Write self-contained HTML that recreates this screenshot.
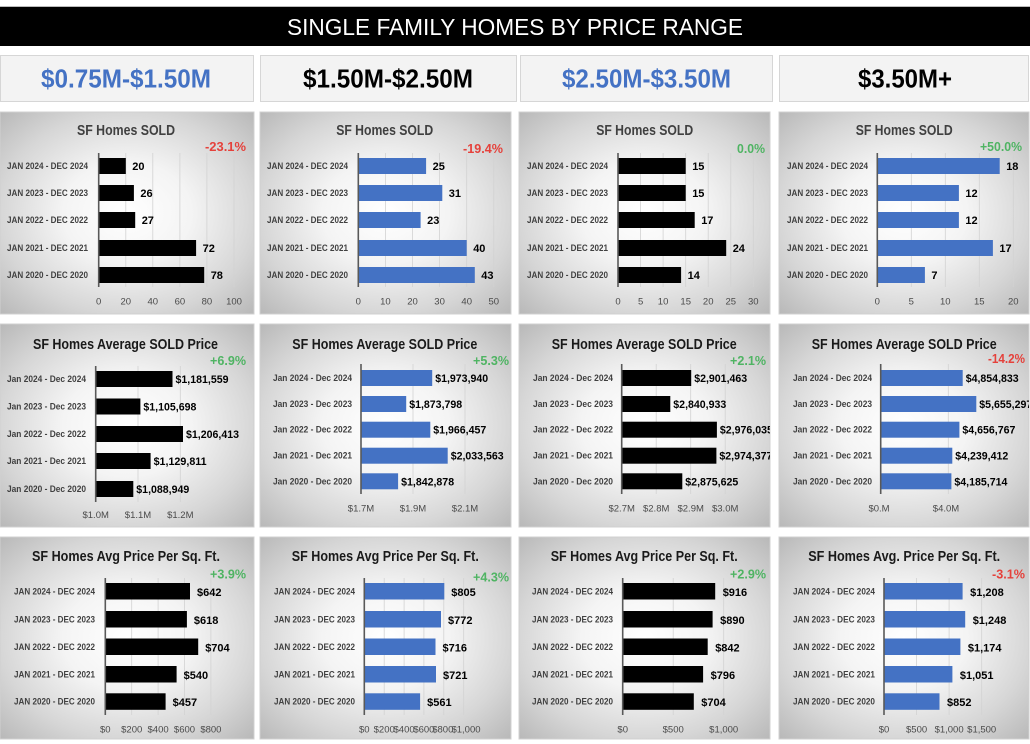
<!DOCTYPE html>
<html><head><meta charset="utf-8"><style>
html,body{margin:0;padding:0;background:#fff;}
svg{display:block;font-family:"Liberation Sans",Arial,sans-serif;}
.ttl{font-weight:bold;font-size:15px;fill:#1a1a1a;text-anchor:middle;}
.t1{fill:#404040;}
.pr{font-weight:bold;font-size:13px;text-anchor:end;}
.red{fill:#e5413b;}
.grn{fill:#4fb463;}
.cat{font-weight:bold;font-size:9px;fill:#404040;text-anchor:end;}
.val{font-weight:bold;font-size:11px;fill:#000;}
.tk{font-size:9.5px;fill:#4a4a4a;text-anchor:middle;}
.gl{stroke:#d2d2d2;stroke-width:0.8;}
.ax{stroke:#595959;stroke-width:1.6;}
.bb{fill:#000;}
.bl{fill:#4472C4;}
</style></head><body>
<svg width="1030" height="744" viewBox="0 0 1030 744" xmlns="http://www.w3.org/2000/svg">
<defs>
<radialGradient id="g" cx="0.5" cy="0.5" r="0.72">
<stop offset="0" stop-color="#ffffff"/>
<stop offset="0.35" stop-color="#f4f4f4"/>
<stop offset="0.7" stop-color="#d6d6d6"/>
<stop offset="1" stop-color="#b6b6b6"/>
</radialGradient>
<clipPath id="c23"><rect x="519" y="324" width="251" height="203"/></clipPath>
<clipPath id="c24"><rect x="779" y="324" width="250" height="203"/></clipPath>
</defs>
<rect width="1030" height="744" fill="#fff"/>
<!-- header -->
<rect x="0" y="6" width="1030" height="1" fill="#bbb"/>
<rect x="0" y="7" width="1030" height="39" fill="#000"/>
<text x="515" y="35" font-size="23" fill="#fff" text-anchor="middle" textLength="456" lengthAdjust="spacingAndGlyphs">SINGLE FAMILY HOMES BY PRICE RANGE</text>
<!-- range boxes -->
<rect x="0.5" y="55.5" width="253" height="46" fill="#f3f3f3" stroke="#d6d6d6"/>
<rect x="260.5" y="55.5" width="256" height="46" fill="#f3f3f3" stroke="#d6d6d6"/>
<rect x="520.5" y="55.5" width="252" height="46" fill="#f3f3f3" stroke="#d6d6d6"/>
<rect x="779.5" y="55.5" width="249" height="46" fill="#f3f3f3" stroke="#d6d6d6"/>
<g font-weight="bold" font-size="26" text-anchor="middle">
<text x="126" y="87.5" fill="#4472C4" textLength="170" lengthAdjust="spacingAndGlyphs">$0.75M-$1.50M</text>
<text x="388" y="87.5" fill="#000" textLength="170" lengthAdjust="spacingAndGlyphs">$1.50M-$2.50M</text>
<text x="646.5" y="87.5" fill="#4472C4" textLength="169" lengthAdjust="spacingAndGlyphs">$2.50M-$3.50M</text>
<text x="905" y="87.5" fill="#000" textLength="94" lengthAdjust="spacingAndGlyphs">$3.50M+</text>
</g>
<!-- panels -->
<g stroke="#d0d0d0" stroke-width="1" fill="url(#g)">
<rect x="0" y="112" width="254" height="202"/><rect x="260" y="112" width="251" height="202"/><rect x="519" y="112" width="251" height="202"/><rect x="779" y="112" width="250" height="202"/>
<rect x="0" y="324" width="254" height="203"/><rect x="260" y="324" width="251" height="203"/><rect x="519" y="324" width="251" height="203"/><rect x="779" y="324" width="250" height="203"/>
<rect x="0" y="537" width="254" height="202"/><rect x="260" y="537" width="251" height="202"/><rect x="519" y="537" width="251" height="202"/><rect x="779" y="537" width="250" height="202"/>
</g>

<!-- ================= ROW 1 ================= -->
<g>
<text class="ttl t1" x="126" y="135" textLength="98" lengthAdjust="spacingAndGlyphs">SF Homes SOLD</text>
<text class="ttl t1" x="384.7" y="135" textLength="97" lengthAdjust="spacingAndGlyphs">SF Homes SOLD</text>
<text class="ttl t1" x="644.7" y="135" textLength="97" lengthAdjust="spacingAndGlyphs">SF Homes SOLD</text>
<text class="ttl t1" x="904.2" y="135" textLength="97" lengthAdjust="spacingAndGlyphs">SF Homes SOLD</text>
<text class="pr red" x="246" y="151" textLength="41" lengthAdjust="spacingAndGlyphs">-23.1%</text>
<text class="pr red" x="503" y="153" textLength="40" lengthAdjust="spacingAndGlyphs">-19.4%</text>
<text class="pr grn" x="765" y="153" textLength="28" lengthAdjust="spacingAndGlyphs">0.0%</text>
<text class="pr grn" x="1022" y="151" textLength="42" lengthAdjust="spacingAndGlyphs">+50.0%</text>
</g>
<!-- R1 P1 -->
<g>
<line class="gl" x1="125.8" y1="153" x2="125.8" y2="287"/><line class="gl" x1="152.8" y1="153" x2="152.8" y2="287"/><line class="gl" x1="179.9" y1="153" x2="179.9" y2="287"/><line class="gl" x1="206.9" y1="153" x2="206.9" y2="287"/><line class="gl" x1="234" y1="153" x2="234" y2="287"/>
<rect class="bb" x="98.7" y="158" width="27.1" height="16"/><rect class="bb" x="98.7" y="185" width="35.2" height="16"/><rect class="bb" x="98.7" y="212" width="36.5" height="16"/><rect class="bb" x="98.7" y="240" width="97.4" height="16"/><rect class="bb" x="98.7" y="267" width="105.5" height="16"/>
<line class="ax" x1="98.7" y1="153" x2="98.7" y2="287"/>
<text class="cat" x="88" y="169" textLength="81" lengthAdjust="spacingAndGlyphs">JAN 2024 - DEC 2024</text>
<text class="cat" x="88" y="196" textLength="81" lengthAdjust="spacingAndGlyphs">JAN 2023 - DEC 2023</text>
<text class="cat" x="88" y="223" textLength="81" lengthAdjust="spacingAndGlyphs">JAN 2022 - DEC 2022</text>
<text class="cat" x="88" y="251" textLength="81" lengthAdjust="spacingAndGlyphs">JAN 2021 - DEC 2021</text>
<text class="cat" x="88" y="278" textLength="81" lengthAdjust="spacingAndGlyphs">JAN 2020 - DEC 2020</text>
<text class="val" x="132.3" y="170">20</text><text class="val" x="140.4" y="197">26</text><text class="val" x="141.7" y="224">27</text><text class="val" x="202.6" y="252">72</text><text class="val" x="210.7" y="279">78</text>
<text class="tk" x="98.7" y="304.5">0</text><text class="tk" x="125.8" y="304.5">20</text><text class="tk" x="152.8" y="304.5">40</text><text class="tk" x="179.9" y="304.5">60</text><text class="tk" x="206.9" y="304.5">80</text><text class="tk" x="234" y="304.5">100</text>
</g>
<!-- R1 P2 -->
<g>
<line class="gl" x1="385.4" y1="153" x2="385.4" y2="287"/><line class="gl" x1="412.5" y1="153" x2="412.5" y2="287"/><line class="gl" x1="439.6" y1="153" x2="439.6" y2="287"/><line class="gl" x1="466.7" y1="153" x2="466.7" y2="287"/><line class="gl" x1="493.8" y1="153" x2="493.8" y2="287"/>
<rect class="bl" x="358.3" y="158" width="67.8" height="16"/><rect class="bl" x="358.3" y="185" width="84" height="16"/><rect class="bl" x="358.3" y="212" width="62.3" height="16"/><rect class="bl" x="358.3" y="240" width="108.4" height="16"/><rect class="bl" x="358.3" y="267" width="116.5" height="16"/>
<line class="ax" x1="358.3" y1="153" x2="358.3" y2="287"/>
<text class="cat" x="348" y="169" textLength="81" lengthAdjust="spacingAndGlyphs">JAN 2024 - DEC 2024</text>
<text class="cat" x="348" y="196" textLength="81" lengthAdjust="spacingAndGlyphs">JAN 2023 - DEC 2023</text>
<text class="cat" x="348" y="223" textLength="81" lengthAdjust="spacingAndGlyphs">JAN 2022 - DEC 2022</text>
<text class="cat" x="348" y="251" textLength="81" lengthAdjust="spacingAndGlyphs">JAN 2021 - DEC 2021</text>
<text class="cat" x="348" y="278" textLength="81" lengthAdjust="spacingAndGlyphs">JAN 2020 - DEC 2020</text>
<text class="val" x="432.6" y="170">25</text><text class="val" x="448.8" y="197">31</text><text class="val" x="427.1" y="224">23</text><text class="val" x="473.2" y="252">40</text><text class="val" x="481.3" y="279">43</text>
<text class="tk" x="358.3" y="304.5">0</text><text class="tk" x="385.4" y="304.5">10</text><text class="tk" x="412.5" y="304.5">20</text><text class="tk" x="439.6" y="304.5">30</text><text class="tk" x="466.7" y="304.5">40</text><text class="tk" x="493.8" y="304.5">50</text>
</g>
<!-- R1 P3 -->
<g>
<line class="gl" x1="640.6" y1="153" x2="640.6" y2="287"/><line class="gl" x1="663.1" y1="153" x2="663.1" y2="287"/><line class="gl" x1="685.7" y1="153" x2="685.7" y2="287"/><line class="gl" x1="708.2" y1="153" x2="708.2" y2="287"/><line class="gl" x1="730.8" y1="153" x2="730.8" y2="287"/><line class="gl" x1="753.3" y1="153" x2="753.3" y2="287"/>
<rect class="bb" x="618" y="158" width="67.7" height="16"/><rect class="bb" x="618" y="185" width="67.7" height="16"/><rect class="bb" x="618" y="212" width="76.7" height="16"/><rect class="bb" x="618" y="240" width="108.2" height="16"/><rect class="bb" x="618" y="267" width="63.1" height="16"/>
<line class="ax" x1="618" y1="153" x2="618" y2="287"/>
<text class="cat" x="608" y="169" textLength="81" lengthAdjust="spacingAndGlyphs">JAN 2024 - DEC 2024</text>
<text class="cat" x="608" y="196" textLength="81" lengthAdjust="spacingAndGlyphs">JAN 2023 - DEC 2023</text>
<text class="cat" x="608" y="223" textLength="81" lengthAdjust="spacingAndGlyphs">JAN 2022 - DEC 2022</text>
<text class="cat" x="608" y="251" textLength="81" lengthAdjust="spacingAndGlyphs">JAN 2021 - DEC 2021</text>
<text class="cat" x="608" y="278" textLength="81" lengthAdjust="spacingAndGlyphs">JAN 2020 - DEC 2020</text>
<text class="val" x="692.2" y="170">15</text><text class="val" x="692.2" y="197">15</text><text class="val" x="701.2" y="224">17</text><text class="val" x="732.7" y="252">24</text><text class="val" x="687.6" y="279">14</text>
<text class="tk" x="618" y="304.5">0</text><text class="tk" x="640.6" y="304.5">5</text><text class="tk" x="663.1" y="304.5">10</text><text class="tk" x="685.7" y="304.5">15</text><text class="tk" x="708.2" y="304.5">20</text><text class="tk" x="730.8" y="304.5">25</text><text class="tk" x="753.3" y="304.5">30</text>
</g>
<!-- R1 P4 -->
<g>
<line class="gl" x1="911.3" y1="153" x2="911.3" y2="287"/><line class="gl" x1="945.3" y1="153" x2="945.3" y2="287"/><line class="gl" x1="979.3" y1="153" x2="979.3" y2="287"/><line class="gl" x1="1013.3" y1="153" x2="1013.3" y2="287"/>
<rect class="bl" x="877.3" y="158" width="122.4" height="16"/><rect class="bl" x="877.3" y="185" width="81.6" height="16"/><rect class="bl" x="877.3" y="212" width="81.6" height="16"/><rect class="bl" x="877.3" y="240" width="115.6" height="16"/><rect class="bl" x="877.3" y="267" width="47.6" height="16"/>
<line class="ax" x1="877.3" y1="153" x2="877.3" y2="287"/>
<text class="cat" x="868" y="169" textLength="81" lengthAdjust="spacingAndGlyphs">JAN 2024 - DEC 2024</text>
<text class="cat" x="868" y="196" textLength="81" lengthAdjust="spacingAndGlyphs">JAN 2023 - DEC 2023</text>
<text class="cat" x="868" y="223" textLength="81" lengthAdjust="spacingAndGlyphs">JAN 2022 - DEC 2022</text>
<text class="cat" x="868" y="251" textLength="81" lengthAdjust="spacingAndGlyphs">JAN 2021 - DEC 2021</text>
<text class="cat" x="868" y="278" textLength="81" lengthAdjust="spacingAndGlyphs">JAN 2020 - DEC 2020</text>
<text class="val" x="1006.2" y="170">18</text><text class="val" x="965.4" y="197">12</text><text class="val" x="965.4" y="224">12</text><text class="val" x="999.4" y="252">17</text><text class="val" x="931.4" y="279">7</text>
<text class="tk" x="877.3" y="304.5">0</text><text class="tk" x="911.3" y="304.5">5</text><text class="tk" x="945.3" y="304.5">10</text><text class="tk" x="979.3" y="304.5">15</text><text class="tk" x="1013.3" y="304.5">20</text>
</g>

<!-- ================= ROW 2 ================= -->
<g>
<text class="ttl" x="125.5" y="349" textLength="185" lengthAdjust="spacingAndGlyphs">SF Homes Average SOLD Price</text>
<text class="ttl" x="384.8" y="349" textLength="185" lengthAdjust="spacingAndGlyphs">SF Homes Average SOLD Price</text>
<text class="ttl" x="644.2" y="349" textLength="185" lengthAdjust="spacingAndGlyphs">SF Homes Average SOLD Price</text>
<text class="ttl" x="904.2" y="349" textLength="185" lengthAdjust="spacingAndGlyphs">SF Homes Average SOLD Price</text>
<text class="pr grn" x="246" y="365" textLength="36" lengthAdjust="spacingAndGlyphs">+6.9%</text>
<text class="pr grn" x="509" y="365" textLength="36" lengthAdjust="spacingAndGlyphs">+5.3%</text>
<text class="pr grn" x="766" y="365" textLength="36" lengthAdjust="spacingAndGlyphs">+2.1%</text>
<text class="pr red" x="1025" y="363" textLength="37" lengthAdjust="spacingAndGlyphs">-14.2%</text>
</g>
<!-- R2 P1 -->
<g>
<line class="gl" x1="138" y1="366" x2="138" y2="502"/><line class="gl" x1="180.3" y1="366" x2="180.3" y2="502"/>
<rect class="bb" x="95.7" y="371" width="76.8" height="16"/><rect class="bb" x="95.7" y="398.5" width="44.7" height="16"/><rect class="bb" x="95.7" y="426" width="87.3" height="16"/><rect class="bb" x="95.7" y="453" width="54.9" height="16"/><rect class="bb" x="95.7" y="481" width="37.6" height="16"/>
<line class="ax" x1="95.7" y1="366" x2="95.7" y2="502"/>
<text class="cat" x="86" y="382" textLength="79" lengthAdjust="spacingAndGlyphs">Jan 2024 - Dec 2024</text>
<text class="cat" x="86" y="409.5" textLength="79" lengthAdjust="spacingAndGlyphs">Jan 2023 - Dec 2023</text>
<text class="cat" x="86" y="437" textLength="79" lengthAdjust="spacingAndGlyphs">Jan 2022 - Dec 2022</text>
<text class="cat" x="86" y="464" textLength="79" lengthAdjust="spacingAndGlyphs">Jan 2021 - Dec 2021</text>
<text class="cat" x="86" y="492" textLength="79" lengthAdjust="spacingAndGlyphs">Jan 2020 - Dec 2020</text>
<text class="val" x="175.5" y="383" textLength="53" lengthAdjust="spacingAndGlyphs">$1,181,559</text><text class="val" x="143.4" y="410.5" textLength="53" lengthAdjust="spacingAndGlyphs">$1,105,698</text><text class="val" x="186" y="438" textLength="53" lengthAdjust="spacingAndGlyphs">$1,206,413</text><text class="val" x="153.6" y="465" textLength="53" lengthAdjust="spacingAndGlyphs">$1,129,811</text><text class="val" x="136.3" y="493" textLength="53" lengthAdjust="spacingAndGlyphs">$1,088,949</text>
<text class="tk" x="95.7" y="518">$1.0M</text><text class="tk" x="138" y="518">$1.1M</text><text class="tk" x="180.3" y="518">$1.2M</text>
</g>
<!-- R2 P2 -->
<g>
<line class="gl" x1="413" y1="364" x2="413" y2="494"/><line class="gl" x1="465" y1="364" x2="465" y2="494"/>
<rect class="bl" x="361" y="370" width="71.2" height="16"/><rect class="bl" x="361" y="396" width="45.2" height="16"/><rect class="bl" x="361" y="421.7" width="69.3" height="16"/><rect class="bl" x="361" y="447.7" width="86.7" height="16"/><rect class="bl" x="361" y="473.3" width="37.1" height="16"/>
<line class="ax" x1="361" y1="364" x2="361" y2="494"/>
<text class="cat" x="352" y="381" textLength="79" lengthAdjust="spacingAndGlyphs">Jan 2024 - Dec 2024</text>
<text class="cat" x="352" y="407" textLength="79" lengthAdjust="spacingAndGlyphs">Jan 2023 - Dec 2023</text>
<text class="cat" x="352" y="432.7" textLength="79" lengthAdjust="spacingAndGlyphs">Jan 2022 - Dec 2022</text>
<text class="cat" x="352" y="458.7" textLength="79" lengthAdjust="spacingAndGlyphs">Jan 2021 - Dec 2021</text>
<text class="cat" x="352" y="484.3" textLength="79" lengthAdjust="spacingAndGlyphs">Jan 2020 - Dec 2020</text>
<text class="val" x="435.2" y="382" textLength="53" lengthAdjust="spacingAndGlyphs">$1,973,940</text><text class="val" x="409.2" y="408" textLength="53" lengthAdjust="spacingAndGlyphs">$1,873,798</text><text class="val" x="433.3" y="433.7" textLength="53" lengthAdjust="spacingAndGlyphs">$1,966,457</text><text class="val" x="450.7" y="459.7" textLength="53" lengthAdjust="spacingAndGlyphs">$2,033,563</text><text class="val" x="401.1" y="485.3" textLength="53" lengthAdjust="spacingAndGlyphs">$1,842,878</text>
<text class="tk" x="361" y="511.5">$1.7M</text><text class="tk" x="413" y="511.5">$1.9M</text><text class="tk" x="465" y="511.5">$2.1M</text>
</g>
<!-- R2 P3 -->
<g clip-path="url(#c23)">
<line class="gl" x1="656.2" y1="364" x2="656.2" y2="494"/><line class="gl" x1="690.7" y1="364" x2="690.7" y2="494"/><line class="gl" x1="725.2" y1="364" x2="725.2" y2="494"/>
<rect class="bb" x="621.7" y="370" width="69.5" height="16"/><rect class="bb" x="621.7" y="396" width="48.6" height="16"/><rect class="bb" x="621.7" y="421.7" width="95.2" height="16"/><rect class="bb" x="621.7" y="447.7" width="94.7" height="16"/><rect class="bb" x="621.7" y="473.3" width="60.6" height="16"/>
<line class="ax" x1="621.7" y1="364" x2="621.7" y2="494"/>
<text class="cat" x="613" y="381" textLength="80" lengthAdjust="spacingAndGlyphs">Jan 2024 - Dec 2024</text>
<text class="cat" x="613" y="407" textLength="80" lengthAdjust="spacingAndGlyphs">Jan 2023 - Dec 2023</text>
<text class="cat" x="613" y="432.7" textLength="80" lengthAdjust="spacingAndGlyphs">Jan 2022 - Dec 2022</text>
<text class="cat" x="613" y="458.7" textLength="80" lengthAdjust="spacingAndGlyphs">Jan 2021 - Dec 2021</text>
<text class="cat" x="613" y="484.3" textLength="80" lengthAdjust="spacingAndGlyphs">Jan 2020 - Dec 2020</text>
<text class="val" x="694.2" y="382" textLength="53" lengthAdjust="spacingAndGlyphs">$2,901,463</text><text class="val" x="673.3" y="408" textLength="53" lengthAdjust="spacingAndGlyphs">$2,840,933</text><text class="val" x="719.9" y="433.7" textLength="53" lengthAdjust="spacingAndGlyphs">$2,976,035</text><text class="val" x="719.4" y="459.7" textLength="53" lengthAdjust="spacingAndGlyphs">$2,974,377</text><text class="val" x="685.3" y="485.3" textLength="53" lengthAdjust="spacingAndGlyphs">$2,875,625</text>
<text class="tk" x="621.7" y="511.5">$2.7M</text><text class="tk" x="656.2" y="511.5">$2.8M</text><text class="tk" x="690.7" y="511.5">$2.9M</text><text class="tk" x="725.2" y="511.5">$3.0M</text>
</g>
<!-- R2 P4 -->
<g clip-path="url(#c24)">
<line class="gl" x1="948.3" y1="364" x2="948.3" y2="494"/>
<rect class="bl" x="880.7" y="370" width="82" height="16"/><rect class="bl" x="880.7" y="396" width="95.6" height="16"/><rect class="bl" x="880.7" y="421.7" width="78.7" height="16"/><rect class="bl" x="880.7" y="447.7" width="71.6" height="16"/><rect class="bl" x="880.7" y="473.3" width="70.7" height="16"/>
<line class="ax" x1="880.7" y1="364" x2="880.7" y2="494"/>
<text class="cat" x="872" y="381" textLength="79" lengthAdjust="spacingAndGlyphs">Jan 2024 - Dec 2024</text>
<text class="cat" x="872" y="407" textLength="79" lengthAdjust="spacingAndGlyphs">Jan 2023 - Dec 2023</text>
<text class="cat" x="872" y="432.7" textLength="79" lengthAdjust="spacingAndGlyphs">Jan 2022 - Dec 2022</text>
<text class="cat" x="872" y="458.7" textLength="79" lengthAdjust="spacingAndGlyphs">Jan 2021 - Dec 2021</text>
<text class="cat" x="872" y="484.3" textLength="79" lengthAdjust="spacingAndGlyphs">Jan 2020 - Dec 2020</text>
<text class="val" x="965.7" y="382" textLength="53" lengthAdjust="spacingAndGlyphs">$4,854,833</text><text class="val" x="979.3" y="408" textLength="53" lengthAdjust="spacingAndGlyphs">$5,655,297</text><text class="val" x="962.4" y="433.7" textLength="53" lengthAdjust="spacingAndGlyphs">$4,656,767</text><text class="val" x="955.3" y="459.7" textLength="53" lengthAdjust="spacingAndGlyphs">$4,239,412</text><text class="val" x="954.4" y="485.3" textLength="53" lengthAdjust="spacingAndGlyphs">$4,185,714</text>
<text class="tk" x="879" y="511.5">$0.M</text><text class="tk" x="946" y="511.5">$4.0M</text>
</g>

<!-- ================= ROW 3 ================= -->
<g>
<text class="ttl" x="126" y="561" textLength="188" lengthAdjust="spacingAndGlyphs">SF Homes Avg Price Per Sq. Ft.</text>
<text class="ttl" x="385.3" y="561" textLength="187" lengthAdjust="spacingAndGlyphs">SF Homes Avg Price Per Sq. Ft.</text>
<text class="ttl" x="644.2" y="561" textLength="187" lengthAdjust="spacingAndGlyphs">SF Homes Avg Price Per Sq. Ft.</text>
<text class="ttl" x="904.2" y="561" textLength="192" lengthAdjust="spacingAndGlyphs">SF Homes Avg. Price Per Sq. Ft.</text>
<text class="pr grn" x="246" y="578.7" textLength="36" lengthAdjust="spacingAndGlyphs">+3.9%</text>
<text class="pr grn" x="509" y="581.5" textLength="36" lengthAdjust="spacingAndGlyphs">+4.3%</text>
<text class="pr grn" x="766" y="578.7" textLength="36" lengthAdjust="spacingAndGlyphs">+2.9%</text>
<text class="pr red" x="1025" y="578.7" textLength="33" lengthAdjust="spacingAndGlyphs">-3.1%</text>
</g>
<!-- R3 P1 -->
<g>
<line class="gl" x1="131.7" y1="578" x2="131.7" y2="715"/><line class="gl" x1="158.1" y1="578" x2="158.1" y2="715"/><line class="gl" x1="184.5" y1="578" x2="184.5" y2="715"/><line class="gl" x1="210.9" y1="578" x2="210.9" y2="715"/>
<rect class="bb" x="105.3" y="583" width="84.7" height="16.5"/><rect class="bb" x="105.3" y="611" width="81.6" height="16.5"/><rect class="bb" x="105.3" y="638.5" width="92.9" height="16.5"/><rect class="bb" x="105.3" y="666" width="71.3" height="16.5"/><rect class="bb" x="105.3" y="693.3" width="60.3" height="16.5"/>
<line class="ax" x1="105.3" y1="578" x2="105.3" y2="715"/>
<text class="cat" x="95" y="594.3" textLength="81" lengthAdjust="spacingAndGlyphs">JAN 2024 - DEC 2024</text>
<text class="cat" x="95" y="622.3" textLength="81" lengthAdjust="spacingAndGlyphs">JAN 2023 - DEC 2023</text>
<text class="cat" x="95" y="649.8" textLength="81" lengthAdjust="spacingAndGlyphs">JAN 2022 - DEC 2022</text>
<text class="cat" x="95" y="677.3" textLength="81" lengthAdjust="spacingAndGlyphs">JAN 2021 - DEC 2021</text>
<text class="cat" x="95" y="704.6" textLength="81" lengthAdjust="spacingAndGlyphs">JAN 2020 - DEC 2020</text>
<text class="val" x="197" y="595.8">$642</text><text class="val" x="193.9" y="623.8">$618</text><text class="val" x="205.2" y="651.3">$704</text><text class="val" x="183.6" y="678.8">$540</text><text class="val" x="172.6" y="706.1">$457</text>
<text class="tk" x="105.3" y="732.5">$0</text><text class="tk" x="131.7" y="732.5">$200</text><text class="tk" x="158.1" y="732.5">$400</text><text class="tk" x="184.5" y="732.5">$600</text><text class="tk" x="210.9" y="732.5">$800</text>
</g>
<!-- R3 P2 -->
<g>
<line class="gl" x1="384.2" y1="578" x2="384.2" y2="715"/><line class="gl" x1="404.1" y1="578" x2="404.1" y2="715"/><line class="gl" x1="423.9" y1="578" x2="423.9" y2="715"/><line class="gl" x1="443.8" y1="578" x2="443.8" y2="715"/><line class="gl" x1="463.7" y1="578" x2="463.7" y2="715"/>
<rect class="bl" x="364.3" y="583" width="80" height="16.5"/><rect class="bl" x="364.3" y="611" width="76.7" height="16.5"/><rect class="bl" x="364.3" y="638.5" width="71.2" height="16.5"/><rect class="bl" x="364.3" y="666" width="71.7" height="16.5"/><rect class="bl" x="364.3" y="693.3" width="55.8" height="16.5"/>
<line class="ax" x1="364.3" y1="578" x2="364.3" y2="715"/>
<text class="cat" x="355" y="594.3" textLength="81" lengthAdjust="spacingAndGlyphs">JAN 2024 - DEC 2024</text>
<text class="cat" x="355" y="622.3" textLength="81" lengthAdjust="spacingAndGlyphs">JAN 2023 - DEC 2023</text>
<text class="cat" x="355" y="649.8" textLength="81" lengthAdjust="spacingAndGlyphs">JAN 2022 - DEC 2022</text>
<text class="cat" x="355" y="677.3" textLength="81" lengthAdjust="spacingAndGlyphs">JAN 2021 - DEC 2021</text>
<text class="cat" x="355" y="704.6" textLength="81" lengthAdjust="spacingAndGlyphs">JAN 2020 - DEC 2020</text>
<text class="val" x="451.3" y="595.8">$805</text><text class="val" x="448" y="623.8">$772</text><text class="val" x="442.5" y="651.3">$716</text><text class="val" x="443" y="678.8">$721</text><text class="val" x="427.1" y="706.1">$561</text>
<text class="tk" x="364.3" y="732.5">$0</text><text class="tk" x="384.2" y="732.5">$200</text><text class="tk" x="404.1" y="732.5">$400</text><text class="tk" x="423.9" y="732.5">$600</text><text class="tk" x="442.8" y="732.5">$800</text><text class="tk" x="466" y="732.5">$1,000</text>
</g>
<!-- R3 P3 -->
<g>
<line class="gl" x1="673.2" y1="578" x2="673.2" y2="715"/><line class="gl" x1="723.7" y1="578" x2="723.7" y2="715"/>
<rect class="bb" x="622.7" y="583" width="92.5" height="16.5"/><rect class="bb" x="622.7" y="611" width="89.9" height="16.5"/><rect class="bb" x="622.7" y="638.5" width="85" height="16.5"/><rect class="bb" x="622.7" y="666" width="80.4" height="16.5"/><rect class="bb" x="622.7" y="693.3" width="71.1" height="16.5"/>
<line class="ax" x1="622.7" y1="578" x2="622.7" y2="715"/>
<text class="cat" x="613" y="594.3" textLength="81" lengthAdjust="spacingAndGlyphs">JAN 2024 - DEC 2024</text>
<text class="cat" x="613" y="622.3" textLength="81" lengthAdjust="spacingAndGlyphs">JAN 2023 - DEC 2023</text>
<text class="cat" x="613" y="649.8" textLength="81" lengthAdjust="spacingAndGlyphs">JAN 2022 - DEC 2022</text>
<text class="cat" x="613" y="677.3" textLength="81" lengthAdjust="spacingAndGlyphs">JAN 2021 - DEC 2021</text>
<text class="cat" x="613" y="704.6" textLength="81" lengthAdjust="spacingAndGlyphs">JAN 2020 - DEC 2020</text>
<text class="val" x="722.7" y="595.8">$916</text><text class="val" x="720.1" y="623.8">$890</text><text class="val" x="715.2" y="651.3">$842</text><text class="val" x="710.6" y="678.8">$796</text><text class="val" x="701.3" y="706.1">$704</text>
<text class="tk" x="622.7" y="732.5">$0</text><text class="tk" x="673.2" y="732.5">$500</text><text class="tk" x="723.7" y="732.5">$1,000</text>
</g>
<!-- R3 P4 -->
<g>
<line class="gl" x1="916.6" y1="578" x2="916.6" y2="715"/><line class="gl" x1="949.1" y1="578" x2="949.1" y2="715"/><line class="gl" x1="981.7" y1="578" x2="981.7" y2="715"/>
<rect class="bl" x="884" y="583" width="78.6" height="16.5"/><rect class="bl" x="884" y="611" width="81.2" height="16.5"/><rect class="bl" x="884" y="638.5" width="76.4" height="16.5"/><rect class="bl" x="884" y="666" width="68.4" height="16.5"/><rect class="bl" x="884" y="693.3" width="55.5" height="16.5"/>
<line class="ax" x1="884" y1="578" x2="884" y2="715"/>
<text class="cat" x="875" y="594.3" textLength="82" lengthAdjust="spacingAndGlyphs">JAN 2024 - DEC 2024</text>
<text class="cat" x="875" y="622.3" textLength="82" lengthAdjust="spacingAndGlyphs">JAN 2023 - DEC 2023</text>
<text class="cat" x="875" y="649.8" textLength="82" lengthAdjust="spacingAndGlyphs">JAN 2022 - DEC 2022</text>
<text class="cat" x="875" y="677.3" textLength="82" lengthAdjust="spacingAndGlyphs">JAN 2021 - DEC 2021</text>
<text class="cat" x="875" y="704.6" textLength="82" lengthAdjust="spacingAndGlyphs">JAN 2020 - DEC 2020</text>
<text class="val" x="970.1" y="595.8">$1,208</text><text class="val" x="972.7" y="623.8">$1,248</text><text class="val" x="967.9" y="651.3">$1,174</text><text class="val" x="959.9" y="678.8">$1,051</text><text class="val" x="947" y="706.1">$852</text>
<text class="tk" x="884" y="732.5">$0</text><text class="tk" x="916.6" y="732.5">$500</text><text class="tk" x="949.1" y="732.5">$1,000</text><text class="tk" x="981.7" y="732.5">$1,500</text>
</g>
</svg>
</body></html>
